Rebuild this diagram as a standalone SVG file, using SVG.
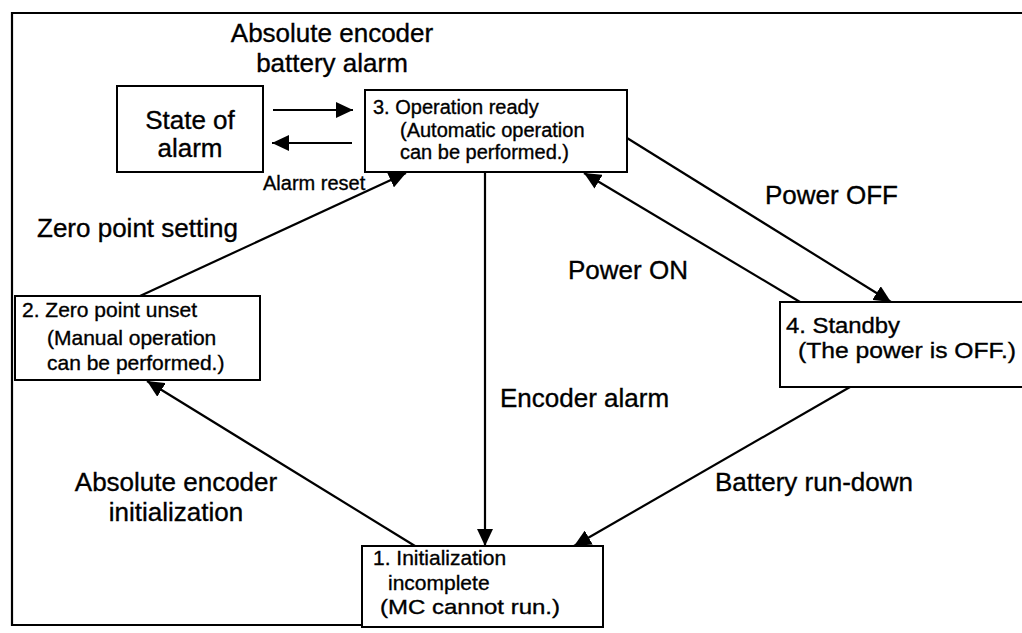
<svg xmlns="http://www.w3.org/2000/svg" width="1022" height="633" viewBox="0 0 1022 633">
<style>
.box{fill:#fff;stroke:#000;stroke-width:2}
.ln{fill:none;stroke:#000;stroke-width:2.2}
text{font-family:"Liberation Sans",Arial,sans-serif;fill:#000;stroke:#000;stroke-width:0.35}
.big{font-size:26px}
.sm{font-size:20px}
.b2{font-size:21px}
.b4{font-size:22px}
.b1{font-size:21px}
</style>
<defs>
<marker id="ah" markerUnits="userSpaceOnUse" markerWidth="18" markerHeight="16" refX="17" refY="8" orient="auto">
<path d="M0,0 L17,8 L0,16 Z" fill="#000"/>
</marker>
</defs>
<rect width="1022" height="633" fill="#fff"/>
<path class="ln" d="M1022,13 H12 V625 H362"/>
<g id="connectors">
<line class="ln" x1="273" y1="110" x2="353" y2="110" marker-end="url(#ah)"/>
<line class="ln" x1="352" y1="143" x2="272" y2="143" marker-end="url(#ah)"/>
<line class="ln" x1="140" y1="296" x2="406" y2="173" marker-end="url(#ah)"/>
<line class="ln" x1="485" y1="172" x2="485" y2="546" marker-end="url(#ah)"/>
<line class="ln" x1="627" y1="138" x2="891" y2="302" marker-end="url(#ah)"/>
<line class="ln" x1="800" y1="302" x2="584" y2="173" marker-end="url(#ah)"/>
<line class="ln" x1="850" y1="387" x2="574" y2="546" marker-end="url(#ah)"/>
<line class="ln" x1="415" y1="546" x2="147" y2="381" marker-end="url(#ah)"/>
<text class="big" x="332" y="42" text-anchor="middle">Absolute encoder</text>
<text class="big" x="332" y="72" text-anchor="middle">battery alarm</text>
<text class="sm" x="263" y="190">Alarm reset</text>
<text class="big" x="37" y="237">Zero point setting</text>
<text class="big" x="765" y="204">Power OFF</text>
<text class="big" x="568" y="279">Power ON</text>
<text class="big" x="500" y="407">Encoder alarm</text>
<text class="big" x="176" y="491" text-anchor="middle">Absolute encoder</text>
<text class="big" x="176" y="521" text-anchor="middle">initialization</text>
<text class="big" x="715" y="491">Battery run-down</text>
</g>
<g id="state-alarm">
<rect class="box" x="117" y="86" width="146" height="86"/>
<text class="big" x="190" y="129" text-anchor="middle">State of</text>
<text class="big" x="190" y="157" text-anchor="middle">alarm</text>
</g>
<g id="node3">
<rect class="box" x="365" y="90" width="262" height="82"/>
<text class="sm" x="373" y="114">3. Operation ready</text>
<text class="sm" x="400" y="137">(Automatic operation</text>
<text class="sm" x="400" y="159">can be performed.)</text>
</g>
<g id="node2">
<rect class="box" x="15" y="296" width="245" height="84"/>
<text class="b2" x="22" y="317">2. Zero point unset</text>
<text class="b2" x="47" y="345">(Manual operation</text>
<text class="b2" x="47" y="370">can be performed.)</text>
</g>
<g id="node4">
<rect class="box" x="780" y="302" width="250" height="85"/>
<text class="b4" x="786" y="333" textLength="114" lengthAdjust="spacingAndGlyphs">4. Standby</text>
<text class="b4" x="798" y="358" textLength="218" lengthAdjust="spacingAndGlyphs">(The power is OFF.)</text>
</g>
<g id="node1">
<rect class="box" x="362" y="546" width="241" height="81"/>
<text class="b1" x="373" y="565">1. Initialization</text>
<text class="b1" x="388" y="590">incomplete</text>
<text class="b1" x="380" y="614" textLength="180" lengthAdjust="spacingAndGlyphs">(MC cannot run.)</text>
</g>
</svg>
